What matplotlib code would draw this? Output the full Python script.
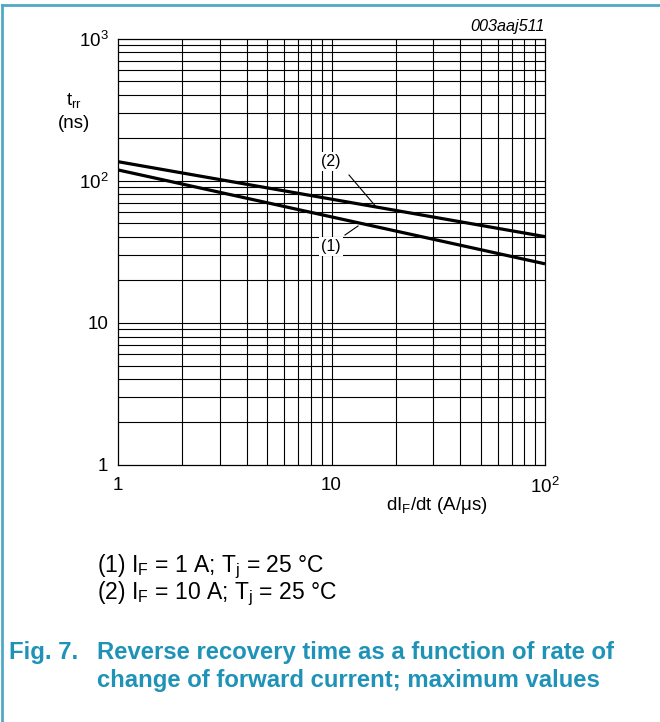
import matplotlib
matplotlib.use("Agg")
import matplotlib.pyplot as plt
from matplotlib.lines import Line2D
import numpy as np

# Data
x_vals = [1, 100]
trr_1 = [119, 26]      # (1) IF = 1 A
trr_2 = [136, 40.4]    # (2) IF = 10 A
xticks = [1, 10, 100]
xtick_labels = ["1", "10", r"10$^{2}$"]
yticks = [1, 10, 100, 1000]
ytick_labels = ["1", "10", r"10$^{2}$", r"10$^{3}$"]

plt.rcParams['font.family'] = ['Liberation Sans', 'DejaVu Sans']
plt.rcParams['mathtext.fontset'] = 'custom'
plt.rcParams['mathtext.rm'] = 'Liberation Sans'
plt.rcParams['mathtext.it'] = 'Liberation Sans:italic'

W, H = 660, 722
fig = plt.figure(figsize=(W/100, H/100), dpi=100)
fig.patch.set_facecolor('white')

L, R, T, B = 118, 545, 38.5, 465
ax = fig.add_axes([L/W, 1-B/H, (R-L)/W, (B-T)/H])
ax.set_xscale('log')
ax.set_yscale('log')
ax.set_xlim(1, 100)
ax.set_ylim(1, 1000)

# grid
for dec in [1, 10]:
    for m in range(1, 10):
        v = dec*m
        if 1 < v < 100:
            ax.axvline(v, color='black', lw=0.8, zorder=1)
for dec in [1, 10, 100]:
    for m in range(1, 10):
        v = dec*m
        if 1 < v < 1000:
            ax.axhline(v, color='black', lw=0.8, zorder=1)
for s in ax.spines.values():
    s.set_linewidth(0.9)

ax.plot(x_vals, trr_1, color='black', lw=2.3, zorder=3, solid_capstyle='butt')
ax.plot(x_vals, trr_2, color='black', lw=2.3, zorder=3, solid_capstyle='butt')

TS = 13.5
ax.tick_params(which='both', length=0)
ax.set_xticks(xticks)
ax.set_xticklabels(xtick_labels, fontsize=TS)
ax.set_yticks(yticks)
ax.set_yticklabels(ytick_labels, fontsize=TS)
ax.minorticks_off()
ax.tick_params(axis='x', pad=8.5)
ax.tick_params(axis='y', pad=7)

# curve labels (pixel -> data helpers)
def px2data(px, py):
    xd = 10**((px-L)/(R-L)*2)
    yd = 10**(3-(py-T)/(B-T)*3)
    return xd, yd

ax.text(*px2data(330.7, 161.7), "(2)", fontsize=11.5, ha='center', va='center', zorder=5,
        bbox=dict(facecolor='white', edgecolor='none', pad=1.5))
ax.text(*px2data(330.7, 246.7), "(1)", fontsize=11.5, ha='center', va='center', zorder=5,
        bbox=dict(facecolor='white', edgecolor='none', pad=1.5))
p1, p2 = px2data(349, 175), px2data(376, 206.7)
ax.plot([p1[0], p2[0]], [p1[1], p2[1]], color='black', lw=0.8, zorder=4)
p1, p2 = px2data(345, 235), px2data(358, 226)
ax.plot([p1[0], p2[0]], [p1[1], p2[1]], color='black', lw=0.8, zorder=4)

def fx(px): return px/W
def fy(py): return 1-py/H

fig.text(fx(74), fy(100), r"t$_{\rm rr}$", fontsize=TS, ha='center', va='center')
fig.text(fx(74), fy(124), "(ns)", fontsize=TS, ha='center', va='center')
fig.text(fx(437), fy(505), r"dI$_{\rm F}$/dt (A/μs)", fontsize=TS, ha='center', va='center')
fig.text(fx(545), fy(26), "003aaj511", fontsize=11.7, ha='right', va='center', style='italic')

LS = 16.5
fig.text(fx(97), fy(567), r"(1) I$_{\rm F}$ = 1 A; T$_{\rm j}$ = 25 °C", fontsize=LS, ha='left', va='center')
fig.text(fx(97), fy(594), r"(2) I$_{\rm F}$ = 10 A; T$_{\rm j}$ = 25 °C", fontsize=LS, ha='left', va='center')

cap = '#1E93B7'
CS = 17.2
fig.text(fx(9), fy(652), "Fig. 7.", fontsize=CS, fontweight='bold', color=cap, ha='left', va='center')
fig.text(fx(97), fy(652), "Reverse recovery time as a function of rate of", fontsize=CS,
         fontweight='bold', color=cap, ha='left', va='center')
fig.text(fx(97), fy(680), "change of forward current; maximum values", fontsize=CS,
         fontweight='bold', color=cap, ha='left', va='center')

border = '#4FA9C4'
fig.add_artist(Line2D([fx(2), 1], [fy(5), fy(5)], color=border, lw=2, transform=fig.transFigure))
fig.add_artist(Line2D([fx(2), fx(2)], [fy(5), 0], color=border, lw=2, transform=fig.transFigure))

fig.savefig("out.png", dpi=100, facecolor='white')
